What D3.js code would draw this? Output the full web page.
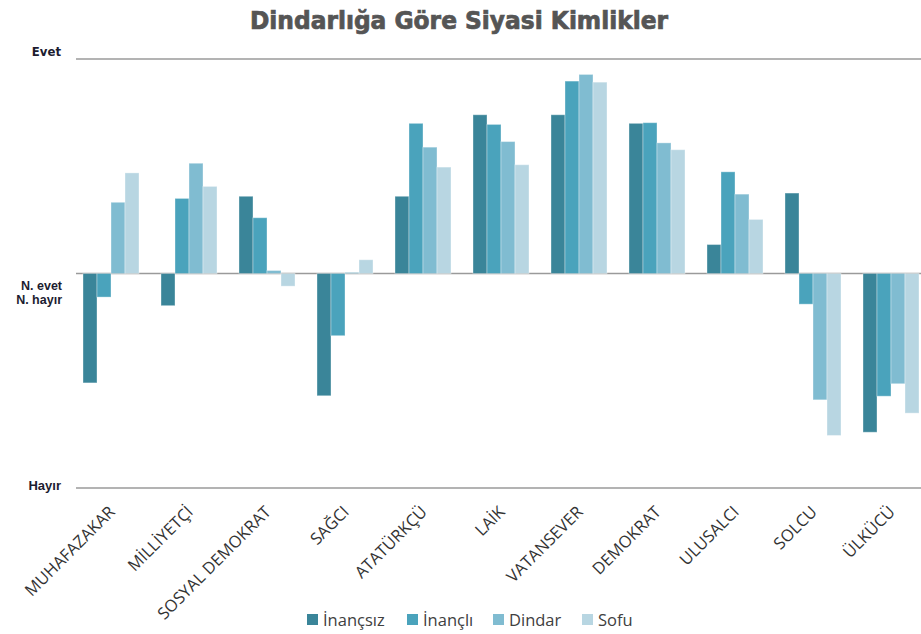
<!DOCTYPE html>
<html>
<head>
<meta charset="utf-8">
<script src="https://cdn.jsdelivr.net/npm/d3@7/dist/d3.min.js"></script>
<style>
  html, body { margin: 0; padding: 0; background: #fff; }
  svg { display: block; }
</style>
</head>
<body>
<svg id="chart" width="921" height="634"></svg>
<script>
const categories = ["MUHAFAZAKAR", "MİLLİYETÇİ", "SOSYAL DEMOKRAT", "SAĞCI", "ATATÜRKÇÜ", "LAİK", "VATANSEVER", "DEMOKRAT", "ULUSALCI", "SOLCU", "ÜLKÜCÜ"];
const seriesNames = ["İnançsız", "İnançlı", "Dindar", "Sofu"];
const inancsiz = [-0.51, -0.15, 0.36, -0.57, 0.36, 0.74, 0.74, 0.70, 0.135, 0.375, -0.74];
const inancli  = [-0.11, 0.35, 0.26, -0.29, 0.70, 0.695, 0.897, 0.703, 0.474, -0.143, -0.572];
const dindar   = [0.332, 0.514, 0.014, 0.005, 0.589, 0.615, 0.928, 0.609, 0.37, -0.589, -0.514];
const sofu     = [0.469, 0.406, -0.059, 0.064, 0.496, 0.507, 0.892, 0.577, 0.252, -0.755, -0.651];
const colors = ["#3a8599", "#4aa3bc", "#80bcd1", "#b8d6e2"];
const yTickLabels = ["Evet", "N. evet", "N. hayır", "Hayır"];

const seriesValues = [inancsiz, inancli, dindar, sofu];

const svg = d3.select("#chart");

const x = d3.scaleBand().domain(categories).range([72, 930]).paddingInner(0.282).paddingOuter(0.141);
const x1 = d3.scaleBand().domain(seriesNames).range([0, x.bandwidth()]).padding(0);
const y = d3.scaleLinear().domain([-1, 1]).range([488, 59]);

// Title
svg.append("text")
  .attr("x", 459).attr("y", 29)
  .attr("text-anchor", "middle")
  .attr("font-family", "DejaVu Sans Condensed, DejaVu Sans")
  .attr("font-weight", "bold")
  .attr("font-size", 25)
  .attr("fill", "#555555")
  .attr("stroke", "#555555").attr("stroke-width", 0.7)
  .attr("textLength", 418)
  .attr("lengthAdjust", "spacingAndGlyphs")
  .text("Dindarlığa Göre Siyasi Kimlikler");

// Horizontal lines
[1, 0, -1].forEach(v => {
  svg.append("line")
    .attr("x1", 76).attr("x2", 921)
    .attr("y1", y(v)).attr("y2", y(v))
    .attr("stroke", "#9a9a9a").attr("stroke-width", 1.6);
});

// Y labels
svg.append("text").attr("x", 61).attr("y", y(1) - 3)
  .attr("text-anchor", "end").attr("font-family", "DejaVu Sans Condensed, DejaVu Sans")
  .attr("font-weight", "bold").attr("font-size", 13).attr("fill", "#1c1c30").text(yTickLabels[0]);
svg.append("text").attr("x", 62).attr("y", y(0) + 16)
  .attr("text-anchor", "end").attr("font-family", "Liberation Sans, Arial")
  .attr("font-weight", "bold").attr("font-size", 12.5).attr("fill", "#1c1c30").text(yTickLabels[1]);
svg.append("text").attr("x", 62).attr("y", y(0) + 30)
  .attr("text-anchor", "end").attr("font-family", "Liberation Sans, Arial")
  .attr("font-weight", "bold").attr("font-size", 12.5).attr("fill", "#1c1c30").text(yTickLabels[2]);
svg.append("text").attr("x", 61).attr("y", y(-1) + 2)
  .attr("text-anchor", "end").attr("font-family", "Liberation Sans, Arial")
  .attr("font-weight", "bold").attr("font-size", 13).attr("fill", "#1c1c30").text(yTickLabels[3]);

// Bars
const groups = svg.append("g").selectAll("g")
  .data(categories)
  .join("g")
  .attr("transform", d => `translate(${x(d)},0)`);

groups.selectAll("rect")
  .data((d, i) => seriesNames.map((s, j) => ({ s, v: seriesValues[j][i], c: colors[j] })))
  .join("rect")
  .attr("x", d => x1(d.s))
  .attr("width", x1.bandwidth())
  .attr("y", d => Math.min(y(d.v), y(0)))
  .attr("height", d => Math.abs(y(d.v) - y(0)))
  .attr("fill", d => d.c)
  .attr("stroke", "#ffffff").attr("stroke-opacity", 0.35).attr("stroke-width", 1);

// X labels
svg.append("g").selectAll("text")
  .data(categories)
  .join("text")
  .attr("transform", d => `translate(${x(d) + x.bandwidth() / 2 + 5},513) rotate(-45)`)
  .attr("text-anchor", "end")
  .attr("font-family", "Open Sans, sans-serif")
  .attr("font-size", 16.5)
  .attr("fill", "#333333")
  .text(d => d);

// Legend
const legendX = [307, 407, 493, 582];
const legend = svg.append("g").selectAll("g")
  .data(seriesNames)
  .join("g")
  .attr("transform", (d, i) => `translate(${legendX[i]},614)`);
legend.append("rect").attr("width", 11).attr("height", 11).attr("fill", (d, i) => colors[i]);
legend.append("text").attr("x", 16).attr("y", 11.5)
  .attr("font-family", "Open Sans, sans-serif").attr("font-size", 16.5)
  .attr("fill", "#404040").text(d => d);
</script>
</body>
</html>
